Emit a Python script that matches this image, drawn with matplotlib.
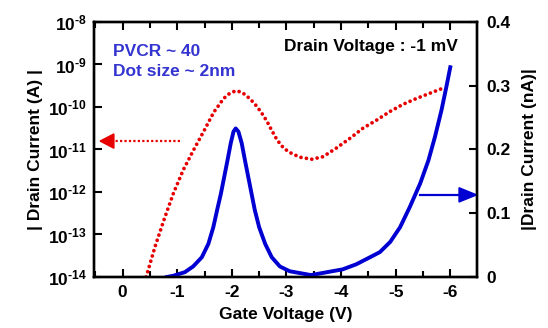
import matplotlib
matplotlib.use("Agg")
import matplotlib.pyplot as plt
import matplotlib.ticker as mticker
from matplotlib.patches import Polygon
import numpy as np

plt.rcParams['font.family'] = ['Liberation Sans', 'DejaVu Sans']
plt.rcParams['font.weight'] = 'bold'
plt.rcParams['mathtext.fontset'] = 'custom'
plt.rcParams['mathtext.rm'] = 'Liberation Sans:bold'
plt.rcParams['mathtext.bf'] = 'Liberation Sans:bold'

# red dotted curve: log10 of drain current (A)
v_log = [-0.43, -0.59, -0.75, -0.93, -1.11, -1.30, -1.49, -1.67, -1.85, -1.96,
         -2.07, -2.18, -2.28, -2.37, -2.46, -2.55, -2.64, -2.73, -2.83, -2.95,
         -3.06, -3.24, -3.46, -3.67, -3.91, -4.16, -4.40, -4.65, -4.89, -5.13,
         -5.38, -5.62, -5.90]
log_i = [-14.0, -13.3, -12.68, -12.03, -11.48, -11.01, -10.56, -10.12, -9.80, -9.68,
         -9.62, -9.65, -9.75, -9.86, -9.99, -10.15, -10.33, -10.55, -10.78, -10.97,
         -11.07, -11.18, -11.23, -11.17, -10.97, -10.74, -10.50, -10.31, -10.11, -9.94,
         -9.80, -9.68, -9.54]

# blue solid curve: drain current (nA)
v_lin = [-0.81, -0.93, -1.14, -1.29, -1.45, -1.57, -1.66, -1.73, -1.80, -1.86,
         -1.92, -1.98, -2.03, -2.07, -2.12, -2.18, -2.24, -2.30, -2.36, -2.42,
         -2.50, -2.61, -2.73, -2.88, -3.06, -3.45, -3.79, -4.03, -4.28, -4.53,
         -4.71, -4.90, -5.08, -5.26, -5.45, -5.60, -5.72, -5.84, -5.93, -6.00]
i_lin = [0.0, 0.002, 0.0076, 0.0165, 0.031, 0.052, 0.078, 0.105, 0.131, 0.157,
         0.183, 0.210, 0.228, 0.233, 0.228, 0.210, 0.183, 0.157, 0.131, 0.105,
         0.078, 0.052, 0.031, 0.0165, 0.009, 0.003, 0.0083, 0.012, 0.020, 0.031,
         0.039, 0.055, 0.078, 0.110, 0.147, 0.183, 0.220, 0.262, 0.299, 0.329]

x_ticks = [0, -1, -2, -3, -4, -5, -6]
red = '#e60000'
blue = '#0000d2'
txt_blue = '#3434d0'

fig = plt.figure(figsize=(5.48, 3.28), dpi=100)
ax = fig.add_axes([0.1715, 0.1555, 0.699, 0.7775])
ax2 = ax.twinx()

ax.plot(v_log, 10.0 ** np.array(log_i), color=red, lw=2.7, ls=(0, (0.01, 1.45)),
        dash_capstyle='round')
ax2.plot(v_lin, i_lin, color=blue, lw=2.8, solid_joinstyle='round')

ax.set_xlim(0.525, -6.49)
ax.set_yscale('log')
ax.set_ylim(1e-14, 1e-8)
ax2.set_ylim(0, 0.4)

ax.set_xticks(x_ticks)
ax.set_xticklabels([str(t) for t in x_ticks])
ax.xaxis.set_minor_locator(mticker.MultipleLocator(0.5))
ax.yaxis.set_major_locator(mticker.FixedLocator([10.0 ** e for e in range(-14, -7)]))
ax.yaxis.set_minor_locator(mticker.NullLocator())
ax.yaxis.set_major_formatter(mticker.FuncFormatter(
    lambda v, p: '$\\mathbf{10^{\u2010%d}}$' % abs(round(np.log10(v)))))
ax2.set_yticks([0, 0.1, 0.2, 0.3, 0.4])
ax2.set_yticklabels(['0', '0.1', '0.2', '0.3', '0.4'])

ax.tick_params(axis='x', which='major', direction='in', length=6, width=1.5,
               top=True, labelsize=12.5, pad=6)
ax.tick_params(axis='x', which='minor', direction='in', length=4, width=1.5, top=True)
ax.tick_params(axis='y', which='major', direction='in', length=6, width=1.5,
               labelsize=12.5, pad=5)
ax2.tick_params(axis='y', direction='in', length=6, width=1.5, labelsize=12.5, pad=7)

for a in (ax, ax2):
    for s in a.spines.values():
        s.set_linewidth(1.7)

ax.set_xlabel('Gate Voltage (V)', fontsize=12.5, fontweight='bold', labelpad=5)
ax.set_ylabel('| Drain Current (A) |', fontsize=12.5, fontweight='bold', labelpad=4)
ax2.set_ylabel('|Drain Current (nA)|', fontsize=12.5, fontweight='bold', labelpad=8)

ax.text(0.05, 0.886, 'PVCR ~ 40', transform=ax.transAxes, color=txt_blue,
        fontsize=12.5, fontweight='bold', va='center', ha='left')
ax.text(0.05, 0.804, 'Dot size ~ 2nm', transform=ax.transAxes, color=txt_blue,
        fontsize=12.5, fontweight='bold', va='center', ha='left')
ax.text(0.95, 0.902, 'Drain Voltage : -1 mV', transform=ax.transAxes, color='black',
        fontsize=12.5, fontweight='bold', va='center', ha='right')

# red arrow pointing to left axis
ax2.plot([0.225, 0.05], [0.533, 0.533], transform=ax.transAxes, color=red,
         lw=1.6, ls=(0, (1, 1)), clip_on=False)
ax2.add_patch(Polygon([[0.016, 0.533], [0.052, 0.561], [0.052, 0.505]],
                      closed=True, transform=ax.transAxes, color=red, clip_on=False))
# blue arrow pointing to right axis
ax2.plot([0.851, 0.955], [0.322, 0.322], transform=ax.transAxes, color=blue,
         lw=1.6, clip_on=False)
ax2.add_patch(Polygon([[0.999, 0.322], [0.953, 0.350], [0.953, 0.294]],
                      closed=True, transform=ax.transAxes, color=blue, clip_on=False))

fig.savefig('out.png', dpi=100)
